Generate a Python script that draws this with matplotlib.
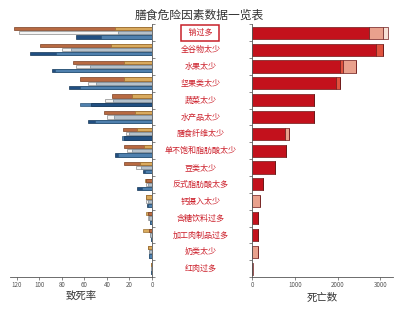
#!/usr/bin/env python3

import numpy as np
import matplotlib.pyplot as plt
import matplotlib.transforms as mtransforms

plt.rcParams['font.family'] = ['Noto Sans CJK SC', 'DejaVu Sans']

factors = ['钠过多', '全谷物太少', '水果太少', '坚果类太少', '蔬菜太少', '水产品太少',
           '膳食纤维太少', '单不饱和脂肪酸太少', '豆类太少', '反式脂肪酸太多',
           '钙摄入太少', '含糖饮料过多', '加工肉制品过多', '奶类太少', '红肉过多']

# left panel: death rate, three rows per factor, each with a long and a short bar
rateBrown = [122, 99, 70, 64, 35.5, 42.5, 25.6, 24.7, 24.7, 5, 5.3, 4, 2.7, 4, 1]
rateTan = [33, 36, 25, 25, 17.6, 15, 13, 7, 10.7, 6, 5, 5, 7.7, 3.5, 0.8]
rateWhite = [118, 80, 67, 57, 42, 40, 23, 22, 14, 5, 5, 3.5, 2, 3, 1]
rateGrey = [30, 72, 55, 50, 35, 34, 20, 18, 10, 4, 4, 3, 1.5, 2.5, 0.8]
rateNavy = [67, 108, 89, 74, 54.5, 57, 25, 33, 8, 13.6, 4.5, 2, 0.5, 3, 1]
rateSteel = [45, 85, 86, 64, 64, 50.6, 27, 30, 6, 9, 3.5, 1.5, 0.5, 2.5, 0.8]

# right panel: number of deaths, stacked segments
deathDark = [2740, 2900, 2060, 1970, 1450, 1450, 770, 800, 540, 260, 0, 140, 140, 0, 0]
deathMid = [0, 170, 70, 90, 0, 0, 0, 0, 0, 0, 0, 0, 0, 0, 0]
deathLight = [330, 0, 300, 0, 0, 0, 100, 0, 0, 0, 190, 0, 0, 130, 0]
deathPale = [120, 0, 0, 0, 0, 0, 0, 0, 0, 0, 0, 0, 0, 0, 20]

rateTicks = [0, 20, 40, 60, 80, 100, 120]
deathTicks = [0, 1000, 2000, 3000]

fig = plt.figure(figsize=(3.99, 3.12), dpi=100)
axL = fig.add_axes([0.025, 0.112, 0.356, 0.81])
axR = fig.add_axes([0.632, 0.112, 0.353, 0.81])

y = np.arange(len(factors))
h = 0.19


def pairBars(ax, ypos, a, b, ca, cb, ea, eb):
    # draw the longer bar first so the shorter one stays visible
    for i in range(len(a)):
        pairs = sorted([(a[i], ca, ea), (b[i], cb, eb)], key=lambda t: -t[0])
        for v, c, e in pairs:
            ax.barh(ypos[i], v, height=h, color=c, edgecolor=e, linewidth=0.5)


pairBars(axL, y - 0.25, rateBrown, rateTan, '#b86a42', '#d9aa5e', '#7a3f22', '#9a7030')
pairBars(axL, y, rateWhite, rateGrey, '#f4f4f4', '#b4c0ca', '#8a8a8a', '#7a8894')
pairBars(axL, y + 0.25, rateNavy, rateSteel, '#214f82', '#4f80ae', '#163858', '#2e5678')

axL.set_xlim(126, 0)
axL.set_ylim(14.45, -0.5)
axL.set_xticks(rateTicks)
axL.set_yticks(np.arange(len(factors) + 1) - 0.5)
axL.set_yticklabels([])
axL.yaxis.tick_right()
for s in ['top', 'left']:
    axL.spines[s].set_visible(False)
for s in ['bottom', 'right']:
    axL.spines[s].set_color('#555555')
    axL.spines[s].set_linewidth(0.6)
axL.tick_params(axis='both', labelsize=4.5, length=2, width=0.5, colors='#555555', pad=1)
axL.set_xlabel('致死率', fontsize=7.5, color='#333333', labelpad=2)

left = np.zeros(len(factors))
segments = [(deathDark, '#c3111c'), (deathMid, '#e0533f'),
            (deathLight, '#e9a18d'), (deathPale, '#f7e0d6')]
for vals, col in segments:
    vals = np.array(vals, dtype=float)
    axR.barh(y, vals, left=left, height=0.72, color=col,
             edgecolor='#6e1a1a', linewidth=0.5)
    left += vals

axR.set_xlim(0, 3300)
axR.set_ylim(14.45, -0.5)
axR.set_xticks(deathTicks)
axR.set_yticks(np.arange(len(factors) + 1) - 0.5)
axR.set_yticklabels([])
for s in ['top', 'right']:
    axR.spines[s].set_visible(False)
for s in ['bottom', 'left']:
    axR.spines[s].set_color('#555555')
    axR.spines[s].set_linewidth(0.6)
axR.tick_params(axis='both', labelsize=4.5, length=2, width=0.5, colors='#555555', pad=1)
axR.set_xlabel('死亡数', fontsize=7.5, color='#333333', labelpad=2)

trans = mtransforms.blended_transform_factory(fig.transFigure, axR.transData)
for i, name in enumerate(factors):
    kw = {}
    if i == 0:
        name = '  ' + name + '  '
        kw['bbox'] = dict(boxstyle='square,pad=0.45', facecolor='white',
                          edgecolor='#c8202a', linewidth=1.1)
    axR.text(0.502, i, name, transform=trans, ha='center', va='center',
             fontsize=5.8, color='#cc1f2a', **kw)

fig.text(0.5, 0.95, '膳食危险因素数据一览表', ha='center', va='center',
         fontsize=8.5, color='#333333')

plt.savefig('out.png', dpi=100)
